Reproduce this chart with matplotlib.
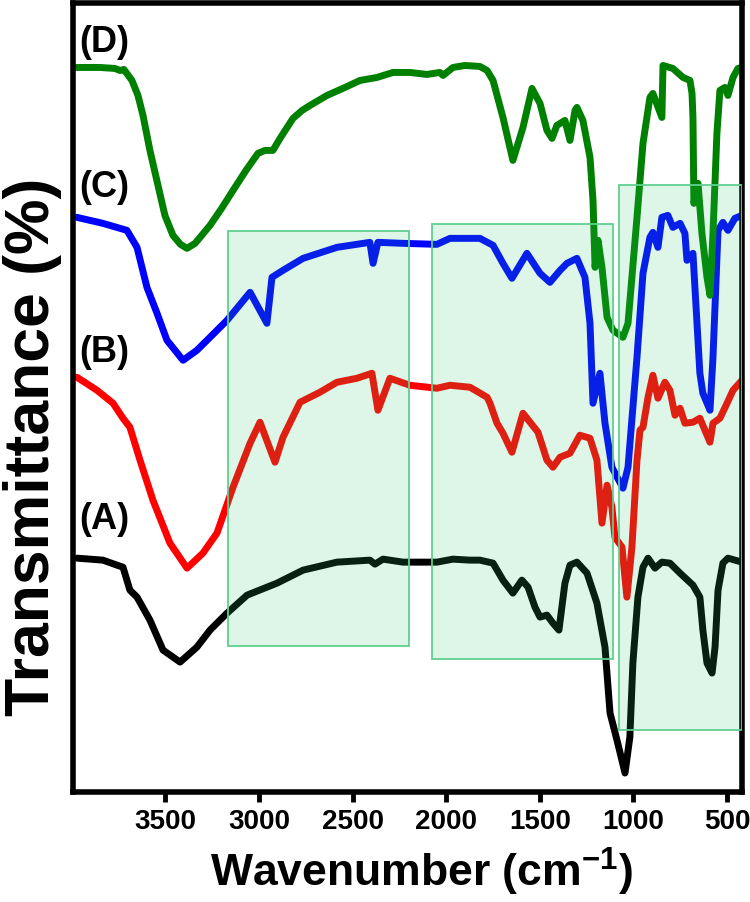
import matplotlib
matplotlib.use('Agg')
import matplotlib.pyplot as plt
from matplotlib.patches import Rectangle

plt.rcParams['font.family'] = ['Liberation Sans', 'DejaVu Sans']
plt.rcParams['font.weight'] = 'bold'
plt.rcParams['mathtext.fontset'] = 'custom'
plt.rcParams['mathtext.rm'] = 'Liberation Sans'
plt.rcParams['mathtext.bf'] = 'Liberation Sans:bold'

# FTIR spectra (wavenumber, transmittance in arbitrary units, curves offset)
wn_A = [3973, 3834, 3759, 3727, 3690, 3652, 3583, 3513, 3422, 3332, 3262, 3171, 3064, 2904,
        2765, 2584, 2408, 2381, 2338, 2231, 2050, 1964, 1873, 1820, 1750, 1697, 1644, 1596,
        1563, 1526, 1499, 1462, 1430, 1398, 1366, 1339, 1302, 1248, 1195, 1152, 1125, 1088,
        1045, 1019, 1003, 976, 949, 922, 885, 848, 805, 751, 682, 645, 629, 607, 580, 564,
        548, 522, 495, 420]
t_A = [272, 270, 265, 263, 240, 233, 210, 180, 168, 183, 200, 217, 235, 247,
       260, 268, 270, 266, 271, 268, 268, 271, 270, 270, 267, 250, 237, 250,
       243, 223, 213, 215, 207, 200, 247, 265, 268, 257, 227, 183, 117, 90,
       57, 93, 167, 233, 263, 272, 262, 268, 267, 257, 245, 233, 200, 167, 157, 183,
       240, 267, 272, 268]

wn_B = [3973, 3866, 3780, 3727, 3690, 3636, 3567, 3476, 3385, 3300, 3225, 3139, 3048, 2995,
        2915, 2872, 2781, 2675, 2584, 2477, 2397, 2365, 2301, 2194, 2050, 1980, 1873, 1782,
        1766, 1729, 1697, 1649, 1590, 1510, 1462, 1430, 1392, 1339, 1286, 1232, 1195, 1168,
        1141, 1115, 1099, 1061, 1035, 1008, 981, 965, 949, 922, 896, 869, 832, 805, 778,
        751, 725, 682, 645, 591, 575, 538, 500, 468, 420]
t_B = [453, 440, 427, 412, 403, 370, 330, 287, 262, 277, 297, 343, 387, 408,
       368, 393, 428, 438, 448, 452, 457, 420, 452, 445, 442, 445, 443, 433,
       427, 407, 397, 378, 417, 398, 370, 363, 373, 377, 395, 392, 370, 307,
       345, 323, 293, 283, 233, 283, 370, 400, 403, 433, 455, 432, 448, 440, 415,
       422, 407, 408, 412, 388, 407, 412, 427, 440, 450]

wn_C = [3973, 3834, 3706, 3652, 3599, 3545, 3492, 3406, 3332, 3262, 3171, 3048, 2958, 2931,
        2872, 2765, 2584, 2408, 2391, 2365, 2231, 2050, 1980, 1873, 1820, 1750, 1697, 1649,
        1569, 1499, 1446, 1392, 1355, 1302, 1259, 1232, 1216, 1179, 1152, 1115, 1056, 1029,
        981, 949, 912, 896, 869, 848, 816, 789, 751, 725, 714, 682, 645, 629, 591, 575,
        548, 522, 495, 458, 420]
t_C = [613, 607, 600, 583, 543, 517, 490, 470, 480, 493, 510, 538, 507, 553,
       560, 572, 583, 588, 567, 588, 587, 586, 592, 592, 592, 585, 567, 552,
       577, 557, 548, 560, 567, 572, 553, 507, 427, 457, 407, 363, 342, 363,
       473, 557, 593, 598, 583, 613, 615, 603, 607, 597, 570, 577, 457, 437, 420, 473,
       600, 608, 600, 612, 615]

wn_D = [3983, 3850, 3770, 3743, 3722, 3679, 3647, 3620, 3583, 3540, 3503, 3460, 3420, 3385,
        3342, 3262, 3200, 3139, 3070, 3006, 2968, 2926, 2888, 2819, 2770, 2728, 2637, 2541,
        2461, 2370, 2285, 2194, 2103, 2034, 2017, 1964, 1900, 1820, 1782, 1750, 1697, 1644,
        1590, 1542, 1499, 1462, 1435, 1409, 1366, 1339, 1312, 1302, 1270, 1232, 1216, 1205,
        1189, 1168, 1141, 1109, 1056, 1029, 981, 949, 912, 896, 848, 842, 789, 735, 698,
        687, 682, 677, 655, 634, 607, 591, 575, 554, 538, 511, 495, 468, 442, 420]
t_D = [763, 763, 762, 760, 761, 750, 735, 715, 680, 645, 615, 595, 586, 582,
       587, 605, 622, 640, 660, 677, 680, 680, 692, 712, 720, 725, 735, 743,
       750, 753, 758, 758, 756, 758, 755, 763, 765, 764, 760, 750, 713, 670,
       703, 742, 727, 700, 692, 705, 710, 690, 720, 723, 710, 673, 630, 563,
       590, 563, 513, 500, 493, 507, 613, 687, 733, 737, 713, 765, 762, 753, 750,
       737, 713, 627, 647, 597, 553, 535, 597, 697, 740, 743, 735, 753, 762, 763]

spectra = [(wn_A, t_A, '#000000', '(A)', 311),
           (wn_B, t_B, '#ff0000', '(B)', 478),
           (wn_C, t_C, '#0000ff', '(C)', 643),
           (wn_D, t_D, '#008000', '(D)', 788)]

# highlighted regions: (wn start, wn end, bottom, top)
regions = [(3166, 2199, 184, 599),
           (2076, 1109, 171, 606),
           (1077, 420, 100, 645)]

fig = plt.figure(figsize=(7.5, 9.02), dpi=100)
ax = fig.add_axes([73 / 750, 1 - 792 / 902, 669 / 750, 789.5 / 902])

for wn, t, color, label, ty in spectra:
    ax.plot(wn, t, color=color, lw=5, solid_capstyle='round', solid_joinstyle='round')
    ax.text(3960, ty, label, fontsize=26, fontweight='bold', ha='left', va='center')

for x0, x1, y0, y1 in regions:
    ax.add_patch(Rectangle((x1, y0), x0 - x1, y1 - y0, facecolor='#2ecc71', alpha=0.16,
                           edgecolor='none', zorder=5))
    ax.add_patch(Rectangle((x1, y0), x0 - x1, y1 - y0, facecolor='none',
                           edgecolor='#5fd08f', lw=1.3, zorder=5))

ax.set_xlim(3994, 420)
ax.set_ylim(38, 828)
ax.set_xticks([3500, 3000, 2500, 2000, 1500, 1000, 500])
ax.set_yticks([])
ax.tick_params(axis='x', direction='out', length=7, width=3.5, labelsize=20, pad=5)
for lab in ax.get_xticklabels():
    lab.set_fontweight('bold')
for s in ax.spines.values():
    s.set_linewidth(4)

fig.text(33 / 750, 1 - 447 / 902, 'Transmittance (%)', rotation=90, fontsize=45,
         fontweight='bold', ha='center', va='center')
fig.text(421 / 750, 1 - 872 / 902, r'Wavenumber (cm$^{\mathbf{-1}}$)', fontsize=32,
         fontweight='bold', ha='center', va='center')

fig.savefig('out.png', dpi=100)
